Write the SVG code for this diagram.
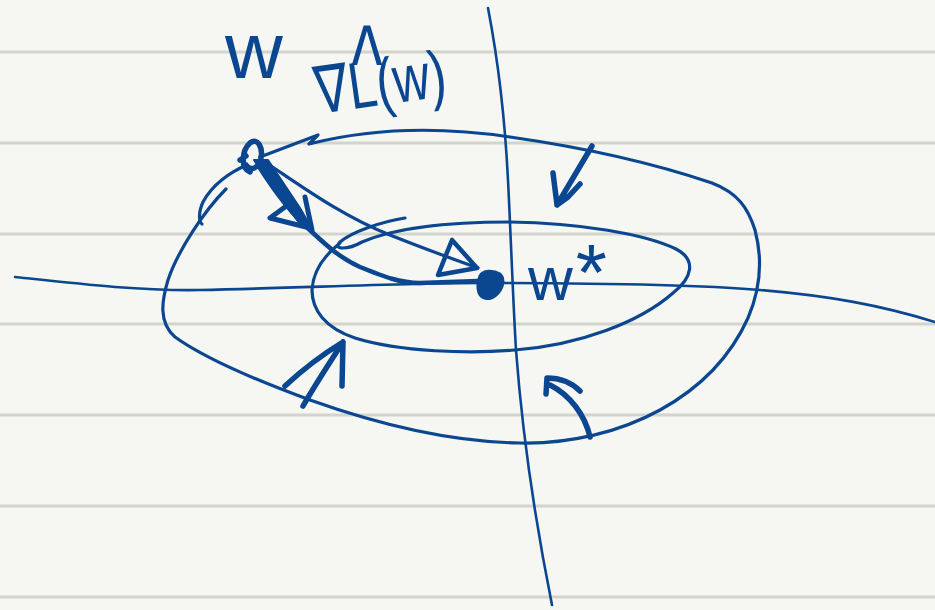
<svg xmlns="http://www.w3.org/2000/svg" width="935" height="610" viewBox="0 0 935 610">
<style>
.rule{stroke:#d4d4ce;stroke-width:3;fill:none}
.ink{stroke:#0b4690;fill:none;stroke-linecap:round;stroke-linejoin:round}
.thin{stroke-width:2.6}
.mid{stroke-width:3.2}
.thick{stroke-width:5.5}
.lbl{fill:#0b4690;font-family:"Liberation Sans",Arial,sans-serif}
</style>
<rect width="935" height="610" fill="#f6f7f2"/>
<g id="paper">
<line class="rule" x1="0" y1="52" x2="935" y2="52"/>
<line class="rule" x1="0" y1="143" x2="935" y2="143"/>
<line class="rule" x1="0" y1="234" x2="935" y2="234"/>
<line class="rule" x1="0" y1="324" x2="935" y2="324"/>
<line class="rule" x1="0" y1="415" x2="935" y2="415"/>
<line class="rule" x1="0" y1="506" x2="935" y2="506"/>
<line class="rule" x1="0" y1="597" x2="935" y2="597"/>
</g>
<g id="axes">
<path class="ink thin" d="M488,8 C498,60 505,120 508,180 C511,240 513,300 516,350 C522,430 535,520 552,605"/>
<path class="ink thin" d="M15,277 C80,284 140,291 200,290 C300,288 400,283 480,283 C600,283 700,285 760,290 C830,296 880,305 935,322"/>
</g>
<g id="contours">
<path id="outer" class="ink mid" d="M260,157 L318,135 L309,144 C380,126 450,128 510,137 C580,147 650,162 712,183 C738,193 748,208 755,230 C763,260 760,290 748,318 C730,358 700,388 660,410 C620,432 570,444 520,443 C450,442 380,425 310,400 C250,378 200,355 175,337 C158,322 162,300 168,280 C178,250 205,210 226,189"/>
<path class="ink mid" d="M247,165 C230,172 212,185 203,202 C198,213 199,222 202,224"/>
<path id="inner" class="ink mid" d="M405,218 C380,222 352,232 340,242 C332,250 348,250 362,242 C395,228 450,222 510,222 C580,223 645,234 676,249 C697,260 692,278 673,293 C640,322 580,345 515,350 C470,354 400,352 355,338 C325,328 312,310 312,290 C313,270 325,255 340,243"/>
</g>
<g id="connectors">
<path class="ink mid" d="M262,160 C300,185 340,215 390,235 C420,247 450,258 478,268"/>
<path class="ink" stroke-width="4.5" d="M452,240 L438,275 L477,268 Z"/>
<path class="ink" stroke-width="4.5" d="M258,165 C275,192 292,215 312,232 C326,245 340,258 360,267 C385,277 400,283 420,283 L478,281"/>
<path fill="#0b4690" stroke="#0b4690" stroke-width="2" stroke-linejoin="round" d="M254,160 L268,160 L300,208 L312,229 L300,224 L276,192 Z"/>
<path class="ink" stroke-width="5" d="M285,207 L270,218 L310,228 M305,197 L312,230"/>
<path class="ink thick" d="M250,172 C240,168 242,150 250,143 C258,137 263,148 261,158 C259,168 251,172 246,165 M240,160 L246,156"/>
<path fill="#0b4690" stroke="#0b4690" stroke-width="3" stroke-linejoin="round" d="M480,276 C483,270 493,270 500,274 C506,280 502,290 496,295 C490,300 482,300 479,293 C477,287 478,281 480,276 Z"/>
<path class="ink thick" d="M592,146 L557,205 M553,173 L557,205 L568,197 L580,184"/>
<path class="ink thick" d="M303,406 C315,385 330,362 343,342 M285,386 C300,372 320,356 343,342 L342,386"/>
<path class="ink thick" d="M590,437 C585,415 570,395 550,385 M546,394 L547,378 C560,378 572,383 580,391"/>
</g>
<g id="labels">
<text class="lbl" x="225" y="78" font-size="80">w</text>
<text class="lbl" transform="translate(367,101) scale(0.6,1)" x="0" y="0" font-size="110" text-anchor="middle">^</text>
<text class="lbl" transform="rotate(-8 318 114)" x="318" y="114" font-size="66" textLength="132" lengthAdjust="spacingAndGlyphs">∇L(w)</text>
<text class="lbl" x="528" y="300" font-size="62">w<tspan font-size="80" dx="3">*</tspan></text>
</g>
</svg>
